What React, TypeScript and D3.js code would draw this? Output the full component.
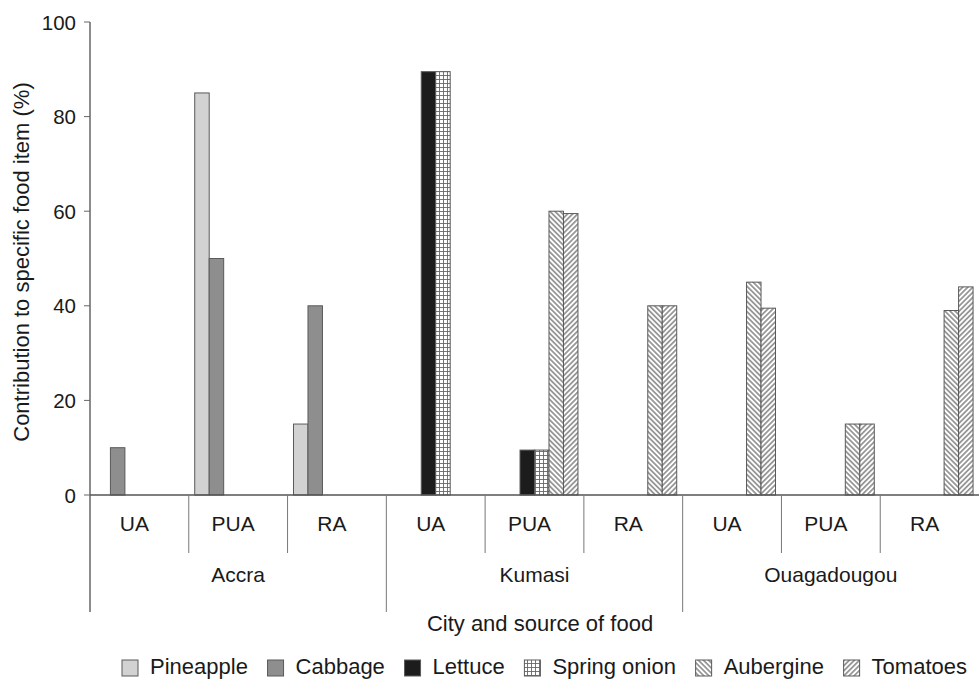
import { useMemo } from 'react';
import { scaleBand, scaleLinear } from 'd3';

const CITIES = ['Accra', 'Kumasi', 'Ouagadougou'];
const SOURCES = ['UA', 'PUA', 'RA'];
const SERIES = ['Pineapple', 'Cabbage', 'Lettuce', 'Spring onion', 'Aubergine', 'Tomatoes'];

// one value per city × source, in CITIES then SOURCES order
const PINEAPPLE = [0, 85, 15, 0, 0, 0, 0, 0, 0];
const CABBAGE = [10, 50, 40, 0, 0, 0, 0, 0, 0];
const LETTUCE = [0, 0, 0, 89.5, 9.5, 0, 0, 0, 0];
const SPRING_ONION = [0, 0, 0, 89.5, 9.5, 0, 0, 0, 0];
const AUBERGINE = [0, 0, 0, 0, 60, 40, 45, 15, 39];
const TOMATOES = [0, 0, 0, 0, 59.5, 40, 39.5, 15, 44];
const VALUES = [PINEAPPLE, CABBAGE, LETTUCE, SPRING_ONION, AUBERGINE, TOMATOES];

const FILLS: Record<string, string> = {
  Pineapple: '#d2d2d2',
  Cabbage: '#8e8e8e',
  Lettuce: '#1c1c1c',
  'Spring onion': 'url(#grid)',
  Aubergine: 'url(#back)',
  Tomatoes: 'url(#fwd)',
};

const W = 979;
const H = 679;
const X0 = 90;
const X1 = 979;
const Y0 = 495; // baseline
const YTOP = 22;
const FONT = '"Liberation Sans", Arial, sans-serif';
const LEG_FS = 22;
const SW = 16;

function measure(text: string, size: number) {
  const c = document.createElement('canvas').getContext('2d');
  if (!c) return text.length * size * 0.5;
  c.font = `${size}px ${FONT}`;
  return c.measureText(text).width;
}

export default function App() {
  const keys = CITIES.flatMap((c) => SOURCES.map((s) => `${c}|${s}`));
  const x = scaleBand<string>().domain(keys).range([X0, X1]).paddingInner(0);
  const inner = scaleBand<string>().domain(SERIES).range([0, x.bandwidth()]).paddingOuter(0.41);
  const city = scaleBand<string>().domain(CITIES).range([X0, X1]);
  const y = scaleLinear().domain([0, 100]).range([Y0, YTOP]);

  // legend laid out across 122..967 with equal gaps
  const legend = useMemo(() => {
    const gapIn = 12;
    const widths = SERIES.map((s) => measure(s, LEG_FS));
    const used = widths.reduce((a, b) => a + b + SW + gapIn, 0);
    const gap = (967 - 122 - used) / (SERIES.length - 1);
    let cx = 122;
    return SERIES.map((s, i) => {
      const item = { s, x: cx, tx: cx + SW + gapIn };
      cx += SW + gapIn + widths[i] + gap;
      return item;
    });
  }, []);

  const dividers = keys.slice(1).map((k, i) => ({ x: x(k)!, long: (i + 1) % SOURCES.length === 0 }));

  return (
    <>
      <style>{'body{margin:0}'}</style>
      <svg width={W} height={H} style={{ display: 'block', background: '#fff' }} fontFamily={FONT}>
        <defs>
          <pattern id="grid" patternUnits="userSpaceOnUse" width={4} height={4}>
            <rect width={4} height={4} fill="#fff" />
            <path d="M3.5,0V4M0,3.5H4" stroke="#666" strokeWidth={0.9} />
          </pattern>
          <pattern id="back" patternUnits="userSpaceOnUse" width={3.6} height={3.6} patternTransform="rotate(-45)">
            <rect width={3.6} height={3.6} fill="#fff" />
            <line x1={1.8} y1={0} x2={1.8} y2={3.6} stroke="#555" strokeWidth={1.1} />
          </pattern>
          <pattern id="fwd" patternUnits="userSpaceOnUse" width={3.6} height={3.6} patternTransform="rotate(45)">
            <rect width={3.6} height={3.6} fill="#fff" />
            <line x1={1.8} y1={0} x2={1.8} y2={3.6} stroke="#555" strokeWidth={1.1} />
          </pattern>
        </defs>

        {/* bars */}
        {SERIES.map((s, si) =>
          VALUES[si].map((v, ki) =>
            v > 0 ? (
              <rect
                key={`${s}-${ki}`}
                x={x(keys[ki])! + inner(s)!}
                y={y(v)}
                width={inner.bandwidth()}
                height={Y0 - y(v)}
                fill={FILLS[s]}
                stroke="#5a5a5a"
                strokeWidth={1}
              />
            ) : null,
          ),
        )}

        {/* y axis */}
        <line x1={X0} x2={X0} y1={YTOP} y2={612} stroke="#666" strokeWidth={1.5} />
        {y.ticks(5).map((t) => (
          <g key={t}>
            <line x1={X0 - 6} x2={X0} y1={y(t)} y2={y(t)} stroke="#666" strokeWidth={1} />
            <text x={X0 - 14} y={y(t)} textAnchor="end" dominantBaseline="central" fontSize={20.5} fill="#1a1a1a">
              {t}
            </text>
          </g>
        ))}
        <text
          transform="translate(21,262) rotate(-90)"
          textAnchor="middle"
          dominantBaseline="central"
          fontSize={22}
          fill="#1a1a1a"
        >
          Contribution to specific food item (%)
        </text>

        {/* x axis */}
        <line x1={X0} x2={X1} y1={Y0} y2={Y0} stroke="#555" strokeWidth={1.5} />
        {dividers.map((d, i) => (
          <line key={i} x1={d.x} x2={d.x} y1={Y0} y2={d.long ? 612 : 553} stroke="#777" strokeWidth={1} />
        ))}
        {keys.map((k) => (
          <text key={k} x={x(k)! + x.bandwidth() / 2 - 5} y={531} textAnchor="middle" fontSize={21} fill="#1a1a1a">
            {k.split('|')[1]}
          </text>
        ))}
        {CITIES.map((c) => (
          <text key={c} x={city(c)! + city.bandwidth() / 2} y={582} textAnchor="middle" fontSize={21} fill="#1a1a1a">
            {c}
          </text>
        ))}
        <text x={540} y={631} textAnchor="middle" fontSize={22} fill="#1a1a1a">
          City and source of food
        </text>

        {/* legend */}
        {legend.map((l) => (
          <g key={l.s}>
            <rect x={l.x} y={660} width={SW} height={SW} fill={FILLS[l.s]} stroke="#5a5a5a" strokeWidth={1} />
            <text x={l.tx} y={674} fontSize={LEG_FS} fill="#1a1a1a">
              {l.s}
            </text>
          </g>
        ))}
      </svg>
    </>
  );
}
